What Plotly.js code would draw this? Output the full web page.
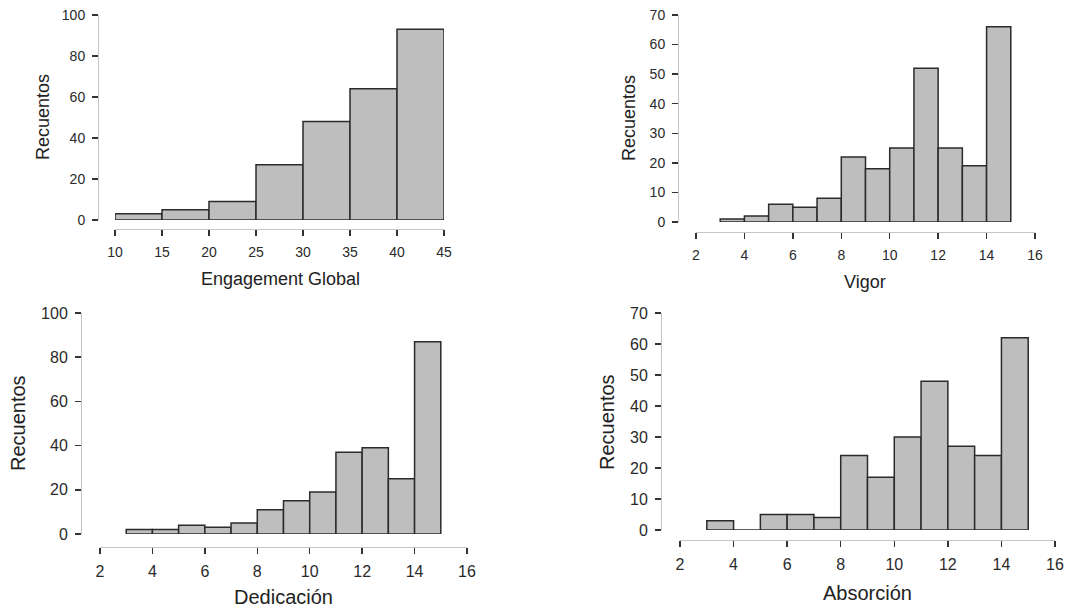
<!DOCTYPE html>
<html>
<head>
<meta charset="utf-8">
<script src="https://cdn.plot.ly/plotly-3.0.1.min.js"></script>
<style>html,body{margin:0;padding:0;background:#fff;}#chart{width:1067px;height:608px;}</style>
</head>
<body>
<div id="chart"></div>
<script>
// ---- data ----
const egEdges = [10, 15, 20, 25, 30, 35, 40, 45];
const egCounts = [3, 5, 9, 27, 48, 64, 93];
const subEdges = [3, 4, 5, 6, 7, 8, 9, 10, 11, 12, 13, 14, 15];
const vigorCounts = [1, 2, 6, 5, 8, 22, 18, 25, 52, 25, 19, 66];
const dedCounts = [2, 2, 4, 3, 5, 11, 15, 19, 37, 39, 25, 87];
const absCounts = [3, 0, 5, 5, 4, 24, 17, 30, 48, 27, 24, 62];
const egTicksX = [10, 15, 20, 25, 30, 35, 40, 45];
const subTicksX = [2, 4, 6, 8, 10, 12, 14, 16];
const egTicksY = [0, 20, 40, 60, 80, 100];
const vigTicksY = [0, 10, 20, 30, 40, 50, 60, 70];
const dedTicksY = [0, 20, 40, 60, 80, 100];
const absTicksY = [0, 10, 20, 30, 40, 50, 60, 70];
const xTitles = ["Engagement Global", "Vigor", "Dedicación", "Absorción"];
const yTitle = "Recuentos";

const W = 1067, H = 608;
function px(x) { return x / W; }
function py(y) { return 1 - y / H; }

function barTrace(edges, counts, xa, ya) {
  const mids = [], widths = [];
  for (let i = 0; i < counts.length; i++) {
    mids.push((edges[i] + edges[i + 1]) / 2);
    widths.push(edges[i + 1] - edges[i]);
  }
  return {
    type: 'bar', x: mids, y: counts, width: widths,
    xaxis: xa, yaxis: ya, cliponaxis: false,
    marker: { color: '#bebebe', line: { color: '#2b2b2b', width: 1.5 } },
    hoverinfo: 'x+y', showlegend: false
  };
}

const panels = [
  { edges: egEdges, counts: egCounts, xr: [10, 45], yr: [0, 100], xt: egTicksX, yt: egTicksY,
    xl: 115, xr2: 444, yb: 220, yt2: 15, yLine: 98, xLine: 229, fs: 14, tfs: 18,
    xtt: [280, 279], ytt: [43, 117] },
  { edges: subEdges, counts: vigorCounts, xr: [2, 16], yr: [0, 70], xt: subTicksX, yt: vigTicksY,
    xl: 696, xr2: 1035, yb: 222, yt2: 15, yLine: 678, xLine: 232, fs: 14, tfs: 18,
    xtt: [865, 282], ytt: [629, 118] },
  { edges: subEdges, counts: dedCounts, xr: [2, 16], yr: [0, 100], xt: subTicksX, yt: dedTicksY,
    xl: 100, xr2: 467, yb: 534, yt2: 313, yLine: 81, xLine: 547, fs: 16, tfs: 20,
    xtt: [283, 597], ytt: [18, 423] },
  { edges: subEdges, counts: absCounts, xr: [2, 16], yr: [0, 70], xt: subTicksX, yt: absTicksY,
    xl: 680, xr2: 1055, yb: 530, yt2: 313, yLine: 661, xLine: 540, fs: 16, tfs: 20,
    xtt: [867, 593], ytt: [607, 422] }
];

const data = [];
const layout = {
  width: W, height: H, margin: { l: 0, r: 0, t: 0, b: 0 },
  paper_bgcolor: '#fff', plot_bgcolor: 'rgba(0,0,0,0)',
  font: { family: 'Liberation Sans, Arial, sans-serif', color: '#333' },
  annotations: [], bargap: 0
};

panels.forEach((p, i) => {
  const n = i + 1;
  const xa = 'x' + (n === 1 ? '' : n), ya = 'y' + (n === 1 ? '' : n);
  const xk = 'xaxis' + (n === 1 ? '' : n), yk = 'yaxis' + (n === 1 ? '' : n);
  data.push(barTrace(p.edges, p.counts, xa, ya));
  layout[xk] = {
    domain: [px(p.xl), px(p.xr2)], range: p.xr, anchor: 'free', position: py(p.xLine),
    showline: true, linecolor: '#c4c4c4', linewidth: 1,
    ticks: 'outside', ticklen: 6, tickwidth: 1.5, tickcolor: '#333',
    tickmode: 'array', tickvals: p.xt, ticktext: p.xt.map(String),
    showgrid: false, zeroline: false, fixedrange: true,
    tickfont: { size: p.fs, color: '#2a2a2a' }, ticklabelstandoff: 4
  };
  layout[yk] = {
    domain: [py(p.yb), py(p.yt2)], range: p.yr, anchor: 'free', position: px(p.yLine),
    showline: true, linecolor: '#c4c4c4', linewidth: 1,
    ticks: 'outside', ticklen: 6, tickwidth: 1.5, tickcolor: '#333',
    tickmode: 'array', tickvals: p.yt, ticktext: p.yt.map(String),
    showgrid: false, zeroline: false, fixedrange: true,
    tickfont: { size: p.fs, color: '#2a2a2a' }, ticklabelstandoff: 4
  };
  layout.annotations.push({
    xref: 'paper', yref: 'paper', x: px(p.xtt[0]), y: py(p.xtt[1]),
    xanchor: 'center', yanchor: 'middle', showarrow: false,
    text: xTitles[i], font: { size: p.tfs, color: '#222' }
  });
  layout.annotations.push({
    xref: 'paper', yref: 'paper', x: px(p.ytt[0]), y: py(p.ytt[1]),
    xanchor: 'center', yanchor: 'middle', showarrow: false, textangle: -90,
    text: yTitle, font: { size: p.tfs, color: '#222' }
  });
});

Plotly.newPlot('chart', data, layout, { displayModeBar: false, staticPlot: true });
</script>
</body>
</html>
